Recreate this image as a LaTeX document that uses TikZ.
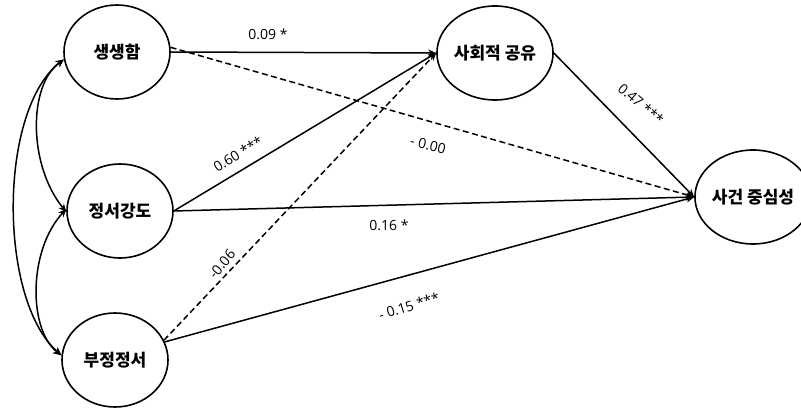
\documentclass[tikz,border=0pt]{standalone}
\usepackage{fontspec}
\newfontfamily\kr{Noto Sans CJK KR}
\newfontfamily\num{Open Sans}
\usetikzlibrary{shapes.geometric,arrows.meta}
\tikzset{
  var/.style={ellipse,draw,line width=1.6pt,minimum width=106pt,minimum height=94pt,inner sep=0pt,font=\kr\bfseries\fontsize{17}{19}\selectfont},
  path/.style={line width=1.5pt,-{Stealth[length=8pt,width=7pt]}},
  dpath/.style={path,dash pattern=on 6pt off 3.5pt},
  cov/.style={line width=1.5pt,{Stealth[length=8pt,width=7pt]}-{Stealth[length=8pt,width=7pt]}},
  lab/.style={font=\num\fontsize{14}{16}\selectfont,inner sep=1pt}
}
\begin{document}
\begin{tikzpicture}[x=1pt,y=-1pt]
\useasboundingbox (0,0) rectangle (801,414);
\begin{scope}
\clip (0,0) rectangle (801,414);
\node[var] (ss) at (117,52) {생생함};
\node[var] (jg) at (120,211) {정서강도};
\node[var] (bj) at (115,360) {부정정서};
\node[var] (sh) at (495,53) {사회적 공유};
\node[var] (sg) at (753,197) {사건 중심성};
\end{scope}

\draw[path] (ss.east) -- (sh.west);
\draw[dpath] (ss.5) -- (sg.west);
\draw[path] (jg.east) -- (sh.west);
\draw[path] (jg.east) -- (sg.west);
\draw[dpath] (bj.22) -- (sh.west);
\draw[path] (bj.20) -- (sg.west);
\draw[path] (sh.east) -- (sg.west);

\draw[cov] (ss.188) .. controls (28,85) and (28,165) .. (jg.181);
\draw[cov] (jg.178) .. controls (28,250) and (28,330) .. (bj.175);
\draw[cov] (ss.188) .. controls (-2,110) and (-2,300) .. (bj.175);

\node[lab] at (268,34) {0.09 *};
\node[lab,rotate=-13] at (428,145) {- 0.00};
\node[lab,rotate=31] at (238,154) {0.60 ***};
\node[lab] at (389,225) {0.16 *};
\node[lab,rotate=50] at (222,264) {-0.06};
\node[lab,rotate=17] at (409,306) {- 0.15 ***};
\node[lab,rotate=-41] at (641,104) {0.47 ***};
\end{tikzpicture}
\end{document}
